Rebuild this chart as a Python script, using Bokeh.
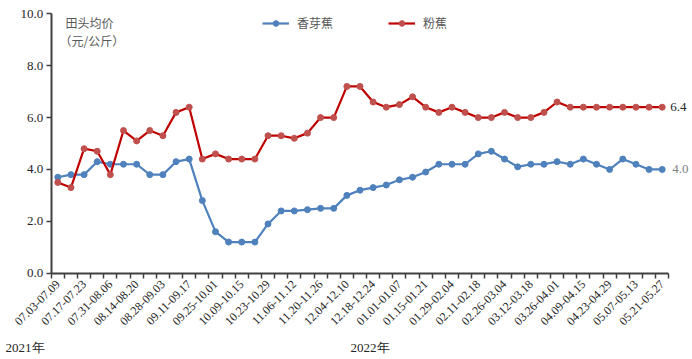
import math
from bokeh.plotting import figure
from bokeh.models import Range1d, FixedTicker, Legend, LegendItem, Label, ColumnDataSource
from bokeh.embed import file_html
from bokeh.resources import INLINE

weeks = [
    "07.03-07.09", "07.10-07.16", "07.17-07.23", "07.24-07.30", "07.31-08.06", "08.07-08.13",
    "08.14-08.20", "08.21-08.27", "08.28-09.03", "09.04-09.10", "09.11-09.17", "09.18-09.24",
    "09.25-10.01", "10.02-10.08", "10.09-10.15", "10.16-10.22", "10.23-10.29", "10.30-11.05",
    "11.06-11.12", "11.13-11.19", "11.20-11.26", "11.27-12.03", "12.04-12.10", "12.11-12.17",
    "12.18-12.24", "12.25-12.31", "01.01-01.07", "01.08-01.14", "01.15-01.21", "01.22-01.28",
    "01.29-02.04", "02.05-02.11", "02.11-02.18", "02.19-02.25", "02.26-03.04", "03.05-03.11",
    "03.12-03.18", "03.19-03.25", "03.26-04.01", "04.02-04.08", "04.09-04.15", "04.16-04.22",
    "04.23-04.29", "04.30-05.06", "05.07-05.13", "05.14-05.20", "05.21-05.27",
]

xiangyajiao = [3.7, 3.8, 3.8, 4.3, 4.2, 4.2, 4.2, 3.8, 3.8, 4.3,
               4.4, 2.8, 1.6, 1.2, 1.2, 1.2, 1.9, 2.4, 2.4, 2.45,
               2.5, 2.5, 3.0, 3.2, 3.3, 3.4, 3.6, 3.7, 3.9, 4.2,
               4.2, 4.2, 4.6, 4.7, 4.4, 4.1, 4.2, 4.2, 4.3, 4.2,
               4.4, 4.2, 4.0, 4.4, 4.2, 4.0, 4.0]

fenjiao = [3.5, 3.3, 4.8, 4.7, 3.8, 5.5, 5.1, 5.5, 5.3, 6.2,
           6.4, 4.4, 4.6, 4.4, 4.4, 4.4, 5.3, 5.3, 5.2, 5.4,
           6.0, 6.0, 7.2, 7.2, 6.6, 6.4, 6.5, 6.8, 6.4, 6.2,
           6.4, 6.2, 6.0, 6.0, 6.2, 6.0, 6.0, 6.2, 6.6, 6.4,
           6.4, 6.4, 6.4, 6.4, 6.4, 6.4, 6.4]

series_names = ["香芽蕉", "粉蕉"]
y_ticks = [0, 2, 4, 6, 8, 10]
y_title = ["田头均价", "（元/公斤）"]
year_labels = ["2021年", "2022年"]

BLUE = "#4F81BD"
RED_LINE = "#C00000"
RED_MARK = "#C0504D"
AXIS = "#404040"
SERIF = "Liberation Serif"
CJK = "Noto Sans CJK SC"

n = len(weeks)
xs = list(range(n))
src = ColumnDataSource(dict(x=xs, a=xiangyajiao, b=fenjiao, week=weeks))

p = figure(width=692, height=359, output_backend="svg", toolbar_location=None,
           x_range=Range1d(-4.361, 48.306), y_range=Range1d(-3.327, 10.513),
           min_border=0)
p.outline_line_color = None
p.grid.visible = False
p.background_fill_color = "white"

# X axis (fixed at y=0, line limited to category span)
xa = p.xaxis[0]
xa.fixed_location = 0
xa.bounds = (-0.5, n - 0.5)
xa.ticker = FixedTicker(ticks=xs[::2], minor_ticks=[i - 0.5 for i in range(n + 1)])
xa.major_label_overrides = {i: weeks[i] for i in xs[::2]}
xa.major_label_orientation = math.pi / 4
xa.major_tick_out = 0
xa.major_tick_in = 0
xa.minor_tick_out = 5
xa.minor_tick_in = 0
xa.minor_tick_line_color = AXIS
xa.minor_tick_line_width = 1.5
xa.axis_line_color = AXIS
xa.axis_line_width = 2
xa.major_label_text_font = SERIF
xa.major_label_text_font_size = "12px"
xa.major_label_text_color = "#262626"
xa.major_label_standoff = 4

# Y axis (fixed at left category boundary)
ya = p.yaxis[0]
ya.fixed_location = -0.5
ya.bounds = (0, 10)
ya.ticker = FixedTicker(ticks=y_ticks)
ya.major_label_overrides = {t: f"{t:.1f}" for t in y_ticks}
ya.minor_tick_line_color = None
ya.major_tick_out = 5
ya.major_tick_in = 0
ya.major_tick_line_color = AXIS
ya.major_tick_line_width = 1.5
ya.axis_line_color = AXIS
ya.axis_line_width = 2
ya.major_label_text_font = SERIF
ya.major_label_text_font_size = "13px"
ya.major_label_text_color = "#262626"
ya.major_label_standoff = 3

# Series
la = p.line("x", "a", source=src, line_color=BLUE, line_width=2.2)
ma = p.scatter("x", "a", source=src, size=6, fill_color=BLUE, line_color=BLUE)
lb = p.line("x", "b", source=src, line_color=RED_LINE, line_width=2.2)
mb = p.scatter("x", "b", source=src, size=6, fill_color=RED_MARK, line_color=RED_MARK)

legend = Legend(items=[LegendItem(label=series_names[0], renderers=[la, ma]),
                       LegendItem(label=series_names[1], renderers=[lb, mb])],
                orientation="horizontal", location=(262, 328),
                border_line_color=None, background_fill_alpha=0,
                padding=0, margin=0, spacing=55, glyph_width=27, glyph_height=14,
                label_height=14, label_standoff=8,
                label_text_font=CJK, label_text_font_size="12px", label_text_color="#595959")
p.add_layout(legend, "center")

# Y axis title inside plot
p.add_layout(Label(x=65, y=337, x_units="screen", y_units="screen", text=y_title[0],
                   text_font=CJK, text_font_size="12px", text_color="#595959",
                   text_baseline="middle", text_align="left"))
p.add_layout(Label(x=59, y=319, x_units="screen", y_units="screen", text=y_title[1],
                   text_font=CJK, text_font_size="12px", text_color="#595959",
                   text_baseline="middle", text_align="left"))

# End-value labels
p.add_layout(Label(x=xs[-1], y=fenjiao[-1], x_offset=8, text=f"{fenjiao[-1]:.1f}",
                   text_font=SERIF, text_font_size="13px", text_color="#262626",
                   text_baseline="middle", text_align="left"))
p.add_layout(Label(x=xs[-1], y=xiangyajiao[-1], x_offset=10, text=f"{xiangyajiao[-1]:.1f}",
                   text_font=SERIF, text_font_size="13px", text_color="#7f7f7f",
                   text_baseline="middle", text_align="left"))

# Year labels
p.add_layout(Label(x=5, y=12, x_units="screen", y_units="screen", text=year_labels[0],
                   text_font=SERIF, text_font_size="13px", text_color="#262626",
                   text_baseline="middle", text_align="left"))
p.add_layout(Label(x=350, y=12, x_units="screen", y_units="screen", text=year_labels[1],
                   text_font=SERIF, text_font_size="13px", text_color="#262626",
                   text_baseline="middle", text_align="left"))

open("out.html", "w").write(file_html(p, INLINE))
